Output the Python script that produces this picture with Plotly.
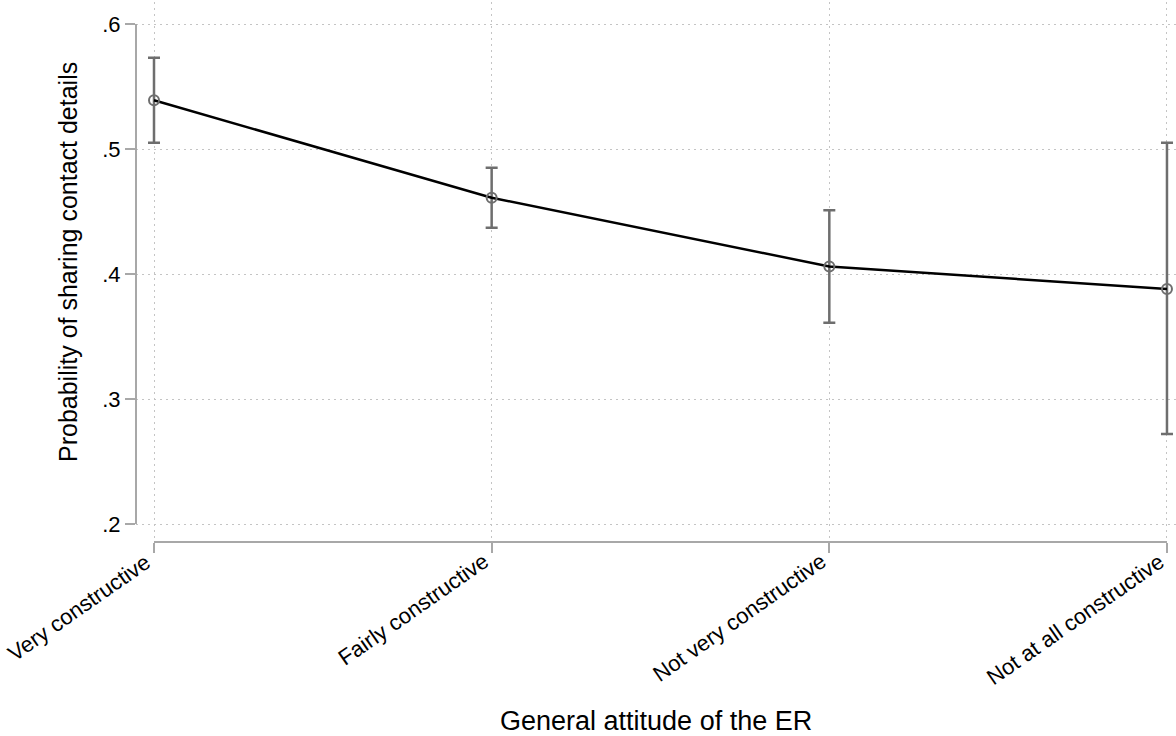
import plotly.graph_objects as go

categories = ["Very constructive", "Fairly constructive", "Not very constructive", "Not at all constructive"]
prob = [0.539, 0.461, 0.406, 0.388]
ci_upper = [0.573, 0.485, 0.451, 0.505]
ci_lower = [0.505, 0.437, 0.361, 0.272]
y_ticks = [0.2, 0.3, 0.4, 0.5, 0.6]
y_tick_labels = [".2", ".3", ".4", ".5", ".6"]
x_title = "General attitude of the ER"
y_title = "Probability of sharing contact details"

xpos = list(range(len(categories)))
err_plus = [u - p for u, p in zip(ci_upper, prob)]
err_minus = [p - l for p, l in zip(prob, ci_lower)]

GRAY = "#6e6e6e"
AXIS = "#a8a8a8"
GRID = "#c4c4c4"
FONT = "Liberation Sans, Arial, sans-serif"

fig = go.Figure()
fig.add_trace(go.Scatter(
    x=xpos, y=prob, mode="lines+markers",
    line=dict(color="black", width=2.5),
    marker=dict(symbol="circle-open", size=10, color=GRAY, line=dict(width=2, color=GRAY)),
    error_y=dict(type="data", symmetric=False, array=err_plus, arrayminus=err_minus,
                 color=GRAY, thickness=2.5, width=6),
    cliponaxis=False, showlegend=False,
))

fig.add_shape(type="line", xref="paper", yref="y", x0=0, x1=0, y0=y_ticks[0], y1=y_ticks[-1],
              line=dict(color=AXIS, width=2))
fig.add_shape(type="line", xref="x", yref="paper", x0=xpos[0], x1=xpos[-1], y0=0, y1=0,
              line=dict(color=AXIS, width=2))

# rotated category labels
for xv, lab in zip(xpos, categories):
    fig.add_annotation(x=xv, y=0, xref="x", yref="paper", text=lab, showarrow=False,
                       textangle=-35, xanchor="right", yanchor="top", xshift=4, yshift=-4,
                       font=dict(size=22, family=FONT, color="black"))

fig.add_annotation(x=0.5, y=-0.3315, xref="paper", yref="paper", text=x_title, showarrow=False,
                   xanchor="center", yanchor="middle", font=dict(size=27, family=FONT, color="black"))
fig.add_annotation(x=-0.0654, y=0.5185, xref="paper", yref="paper", text=y_title, showarrow=False,
                   textangle=-90, xanchor="center", yanchor="middle",
                   font=dict(size=25, family=FONT, color="black"))

fig.update_layout(
    width=1176, height=736,
    margin=dict(l=136, r=0, t=2, b=194, autoexpand=False),
    plot_bgcolor="white", paper_bgcolor="white",
    font=dict(family=FONT, color="black"),
    xaxis=dict(
        range=[-0.0533, 3.0267], tickvals=xpos, showticklabels=False,
        ticks="outside", ticklen=10, tickwidth=2, tickcolor=AXIS,
        showline=False, zeroline=False,
        showgrid=True, gridcolor=GRID, griddash="2px,4px", gridwidth=1,
    ),
    yaxis=dict(
        range=[0.1856, 0.6176], tickvals=y_ticks, ticktext=y_tick_labels,
        ticks="outside", ticklen=10, tickwidth=2, tickcolor=AXIS,
        showline=False, zeroline=False,
        showgrid=True, gridcolor=GRID, griddash="2px,4px", gridwidth=1,
        tickfont=dict(size=22, family=FONT),
    ),
)

fig.write_html("out.html", config={"displayModeBar": False},
               post_script="document.body.style.margin='0';document.body.style.overflow='hidden';")
